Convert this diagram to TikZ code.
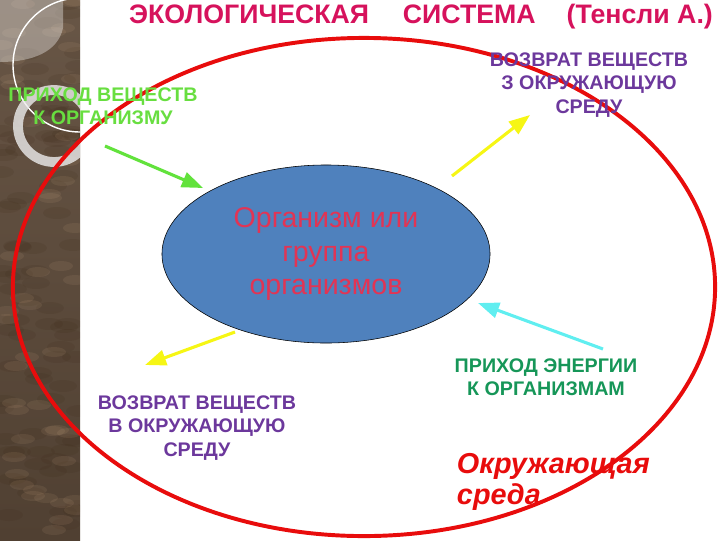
\documentclass[tikz,border=0pt]{standalone}
\usepackage{fontspec}
\setmainfont{Liberation Sans}
\usetikzlibrary{arrows.meta, shapes.geometric, positioning}
\definecolor{titlered}{RGB}{214, 18, 92}
\definecolor{envred}{RGB}{232, 12, 12}
\definecolor{orgblue}{RGB}{79, 129, 189}
\definecolor{orgtext}{RGB}{226, 52, 84}
\definecolor{lblpurple}{RGB}{108, 56, 156}
\definecolor{lblgreen}{RGB}{104, 222, 64}
\definecolor{lblteal}{RGB}{22, 150, 88}
\definecolor{arrgreen}{RGB}{98, 226, 60}
\definecolor{arryellow}{RGB}{246, 246, 20}
\definecolor{arrcyan}{RGB}{96, 238, 240}
\definecolor{barktop}{RGB}{104, 86, 70}
\definecolor{barkbot}{RGB}{80, 64, 50}

\begin{document}
\begin{tikzpicture}[
    x=0.025cm, y=-0.025cm,
    label/.style={font=\bfseries\fontsize{14}{16.5}\selectfont, align=center},
    arrow/.style={-{Triangle[length=15pt, width=11pt]}, line width=2.2pt}
]
    \useasboundingbox (0,0) rectangle (720,540);

    % Bark strip on the left
    \begin{scope}
        \clip (0,0) rectangle (80,540);
        \shade[top color=barktop, bottom color=barkbot] (0,0) rectangle (80,540);
        \pgfmathsetseed{7}
        \foreach \i in {1,...,90} {
            \pgfmathsetmacro{\bx}{random(0,80)}
            \pgfmathsetmacro{\by}{random(0,540)}
            \fill[black!70!brown, opacity=0.12] (\bx,\by) ellipse [x radius=14, y radius=6];
        }
        \foreach \i in {1,...,50} {
            \pgfmathsetmacro{\bx}{random(0,80)}
            \pgfmathsetmacro{\by}{random(0,540)}
            \fill[brown!60!white, opacity=0.10] (\bx,\by) ellipse [x radius=12, y radius=5];
        }
        \fill[white, opacity=0.35] (0,0) -- (63,0) -- (63,28) .. controls (58,52) and (32,62) .. (0,62) -- cycle;
        \draw[white, line width=1pt] (80,65) circle [radius=67];
        \draw[white!85!gray, opacity=0.8, line width=7pt] (54,126) circle [radius=36];
    \end{scope}

    % Title
    \node[font=\bfseries\fontsize{19}{22}\selectfont, text=titlered] (title) at (421,17)
        {ЭКОЛОГИЧЕСКАЯ\hspace{24pt}СИСТЕМА\hspace{22pt}(Тенсли А.)};

    % Environment and organism
    \node[ellipse, draw=envred, line width=2.8pt, minimum width=17.55cm, minimum height=12.45cm, inner sep=0pt] (env) at (364,287) {};
    \node[ellipse, draw, fill=orgblue, minimum width=8.2cm, minimum height=4.45cm, inner sep=0pt,
          font=\fontsize{20.3}{23.5}\selectfont, text=orgtext, align=center] (org) at (326,254)
        {Организм или\\группа\\организмов};

    % Labels
    \node[label, text=lblgreen] (inlbl) at (103,106) {ПРИХОД ВЕЩЕСТВ\\К ОРГАНИЗМУ};
    \node[label, text=lblpurple] (outlblA) at (589,85) {ВОЗВРАТ ВЕЩЕСТВ\\З ОКРУЖАЮЩУЮ\\СРЕДУ};
    \node[label, text=lblpurple] (outlblB) at (197,428) {ВОЗВРАТ ВЕЩЕСТВ\\В ОКРУЖАЮЩУЮ\\СРЕДУ};
    \node[label, text=lblteal] (enlbl) at (546,377) {ПРИХОД ЭНЕРГИИ\\К ОРГАНИЗМАМ};
    \node[anchor=west, align=left, font=\bfseries\itshape\fontsize{20.5}{22.5}\selectfont, text=envred] (envlbl) at (452,482)
        {Окружающая\\среда};

    % Arrow ends
    \coordinate (inA) at (105,146);
    \coordinate (inB) at (203,188);
    \coordinate (outA) at (452,176);
    \coordinate (outB) at (530,115);
    \coordinate (outC) at (235,332);
    \coordinate (outD) at (145,365);
    \coordinate (enA) at (603,349);
    \coordinate (enB) at (478,303);

    % Arrows
    \draw[arrow, arrgreen] (inA) -- (inB);
    \draw[arrow, arryellow] (outA) -- (outB);
    \draw[arrow, arryellow] (outC) -- (outD);
    \draw[arrow, arrcyan] (enA) -- (enB);
\end{tikzpicture}
\end{document}
